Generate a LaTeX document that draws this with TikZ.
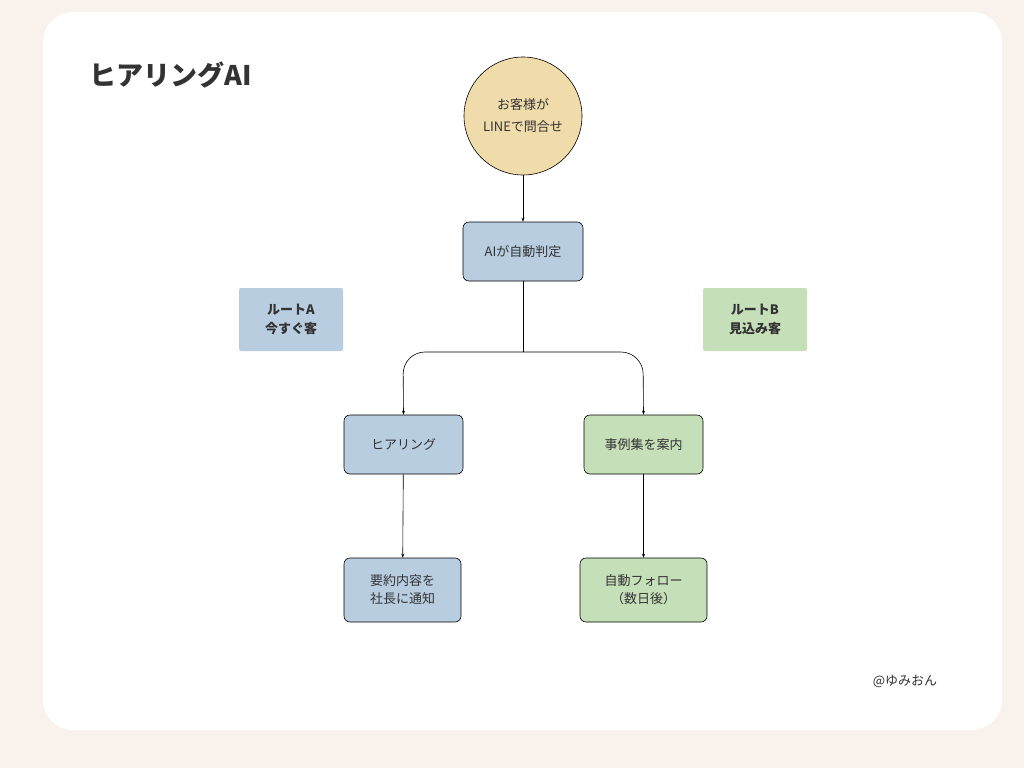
\documentclass[tikz,border=0pt]{standalone}
\usepackage{fontspec}
\setmainfont{Noto Sans CJK JP}
\usetikzlibrary{arrows.meta}
\definecolor{bgc}{HTML}{F9F2EC}
\definecolor{blu}{HTML}{B8CDE0}
\definecolor{grn}{HTML}{C5DFB8}
\definecolor{yel}{HTML}{F0DCAA}
\definecolor{txt}{HTML}{333333}
\begin{document}
\begin{tikzpicture}[x=1pt,y=-1pt,
  box/.style={draw=black,line width=0.6pt,rounded corners=6pt,align=center,text=txt,font=\fontsize{13}{18}\selectfont,inner sep=0pt},
  tag/.style={rounded corners=2pt,align=center,text=txt,font=\bfseries\fontsize{13}{19}\selectfont,inner sep=0pt},
  arr/.style={-{Stealth[length=4pt,width=3pt]},line width=0.6pt}]
\fill[bgc] (0,0) rectangle (1024,768);
\useasboundingbox (0,0) rectangle (1024,768);
\fill[white,rounded corners=30pt] (43,12) rectangle (1002,730);
\node[anchor=west,text=txt,font=\bfseries\fontsize{27}{30}\selectfont] (title) at (86,75) {ヒアリングAI};
\node[circle,draw=black,line width=0.6pt,fill=yel,minimum size=118pt,align=center,text=txt,font=\fontsize{13}{22}\selectfont] (c) at (523,116) {お客様が\\LINEで問合せ};
\node[box,fill=blu,minimum width=120pt,minimum height=59pt] (ai) at (523,251.5) {AIが自動判定};
\node[tag,fill=blu,minimum width=104pt,minimum height=63pt] (ra) at (291,319.5) {ルートA\\今すぐ客};
\node[tag,fill=grn,minimum width=104pt,minimum height=63pt] (rb) at (755,319.5) {ルートB\\見込み客};
\node[box,fill=blu,minimum width=119pt,minimum height=59pt] (h) at (403.5,444.5) {ヒアリング};
\node[box,fill=grn,minimum width=119pt,minimum height=59pt] (j) at (643.5,444.5) {事例集を案内};
\node[box,fill=blu,minimum width=117pt,minimum height=64pt] (s) at (402.5,590) {要約内容を\\社長に通知};
\node[box,fill=grn,minimum width=127pt,minimum height=64pt] (f) at (643.5,590) {自動フォロー\\（数日後）};
\node[text=txt,font=\fontsize{13}{16}\selectfont] (sig) at (905,681) {@ゆみおん};
\coordinate (m) at (523,352);
\draw[arr] (c) -- (ai);
\draw[line width=0.6pt] (ai) -- (m);
\draw[arr,rounded corners=22pt] (m) -- (403,352) -- (h.north);
\draw[arr,rounded corners=22pt] (m) -- (643,352) -- (j.north);
\draw[arr] (h) -- (s);
\draw[arr] (j) -- (f);
\end{tikzpicture}
\end{document}
